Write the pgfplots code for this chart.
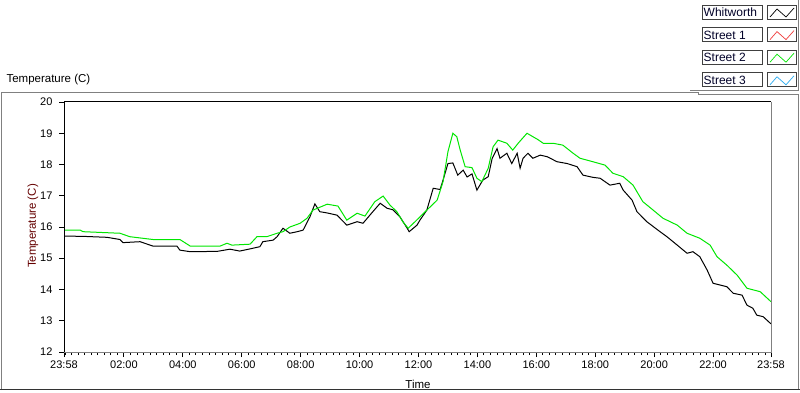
\documentclass[border=0pt]{standalone}
\usepackage{fontspec}
\setmainfont{Liberation Sans}
\usepackage{pgfplots}
\pgfplotsset{compat=1.18}
\definecolor{frgray}{RGB}{128,128,128}
\definecolor{lvgreen}{RGB}{0,230,0}
\definecolor{lvred}{RGB}{240,60,60}
\definecolor{lvblue}{RGB}{40,170,240}
\definecolor{ylab}{RGB}{100,0,0}
\definecolor{legtext}{RGB}{0,0,40}
\begin{document}
\begin{tikzpicture}[font=\fontsize{11}{13}\selectfont]
\begin{scope}[x=1pt,y=1pt]
\useasboundingbox (0,0) rectangle (800,392);
% outer chart frame
\draw[frgray,line width=1pt] (1,2) -- (1,299.3) -- (698,299.3) -- (698,297.3) -- (798.5,297.3) -- (798.5,2);
\draw[black!80,line width=1pt] (0,2.5) -- (800,2.5);
% legend panel border
\draw[frgray,line width=1pt] (690,302) -- (798.5,302) -- (798.5,392);
% top title
\node[anchor=west,font=\fontsize{11.5}{13}\selectfont] at (3,312) {Temperature (C)};
% y label
\node[rotate=90,text=ylab,font=\fontsize{11.5}{13}\selectfont] at (33,166) {Temperature (C)};
% x label
\node[font=\fontsize{11.5}{13}\selectfont] at (418,8) {Time};
\end{scope}
\begin{axis}[
  at={(64pt,40pt)}, anchor=south west,
  width=707pt, height=250pt, scale only axis,
  xmin=0, xmax=1440, ymin=12, ymax=20,
  axis lines*=left,
  x axis line style={frgray,line width=1pt},
  y axis line style={black,line width=1pt},
  tick align=outside,
  major tick length=5pt, minor tick length=3pt,
  every tick/.style={black,line width=0.9pt},
  xtick={0,122,242,362,482,602,722,842,962,1082,1202,1322,1440},
  xticklabels={23:58,02:00,04:00,06:00,08:00,10:00,12:00,14:00,16:00,18:00,20:00,22:00,23:58},
  minor xtick={2,15.333,...,1436},
  ytick={12,13,...,20},
  yticklabel style={xshift=-3pt},
  /pgf/number format/assume math mode=true,
  clip=true,
]
\addplot[black,line width=1pt] coordinates {
(0,15.71)(40,15.70)(87.6,15.67)(114,15.6)(120,15.5)(155,15.53)(181,15.39)(230,15.39)(236,15.26)(257,15.21)
(312,15.22)(338,15.29)(358,15.23)(379,15.30)(399,15.37)(405,15.53)(426,15.58)(434,15.69)(446,15.96)(460,15.8)
(475,15.85)(487,15.9)(501,16.33)(511,16.74)(521,16.49)(536,16.45)(556,16.38)(576,16.06)(597,16.17)(609,16.12)
(629,16.49)(644,16.76)(658,16.6)(670,16.55)(684,16.33)(699,15.96)(703,15.85)(719,16.06)(725,16.22)(739,16.54)
(752,17.24)(766,17.2)(772,17.5)(782,18.03)(792,18.05)(802,17.66)(813,17.82)(821,17.6)(831,17.7)(841,17.18)
(853,17.5)(864,17.61)(872,18.19)(882,18.51)(888,18.2)(902,18.36)(912,18.03)(923,18.36)(929,17.88)(935,18.2)
(945,18.36)(955,18.2)(970,18.3)(984,18.25)(1004,18.09)(1025,18.03)(1045,17.93)(1057,17.66)(1077,17.59)(1092,17.56)
(1112,17.34)(1132,17.4)(1139,17.18)(1157,16.86)(1167,16.49)(1187,16.17)(1214,15.85)(1228,15.69)(1249,15.42)(1269,15.16)
(1281,15.21)(1295,15.05)(1310,14.62)(1322,14.2)(1350,14.09)(1363,13.88)(1381,13.82)(1391,13.5)(1403,13.4)(1411,13.18)
(1424,13.13)(1440,12.9)
};
\addplot[lvgreen,line width=1pt] coordinates {
(0,15.9)(33,15.9)(39,15.85)(114,15.8)(134,15.69)(181,15.6)(236,15.6)(257,15.39)(318,15.39)(332,15.48)
(342,15.42)(379,15.45)(393,15.69)(413,15.69)(434,15.8)(446,15.85)(460,16.0)(481,16.12)(495,16.28)(507,16.54)
(536,16.73)(558,16.67)(576,16.22)(597,16.44)(613,16.35)(633,16.81)(650,16.99)(664,16.70)(678,16.49)(690,16.17)
(701,15.96)(715,16.17)(739,16.54)(760,16.86)(772,17.45)(782,18.41)(792,19.0)(800,18.89)(807,18.46)(817,17.93)
(831,17.9)(841,17.56)(851,17.45)(864,17.88)(874,18.57)(884,18.78)(902,18.68)(914,18.46)(925,18.68)(943,19.0)
(955,18.89)(965,18.8)(976,18.68)(996,18.68)(1016,18.62)(1037,18.36)(1051,18.2)(1077,18.09)(1102,17.98)(1118,17.72)
(1139,17.61)(1159,17.34)(1179,16.81)(1200,16.54)(1220,16.28)(1249,16.06)(1269,15.8)(1295,15.64)(1316,15.42)(1330,15.05)
(1350,14.78)(1371,14.46)(1391,14.04)(1418,13.93)(1440,13.61)
};
\end{axis}
\begin{scope}[x=1pt,y=1pt]
% top and right frame of plot area
\draw[black,line width=1pt] (64,40) -- (64,290.5) -- (771,290.5);
\draw[frgray,line width=1pt] (771,290.5) -- (771,40) -- (64,40);
% legend
\foreach \i/\name/\col in {0/Whitworth/black,1/Street 1/lvred,2/Street 2/lvgreen,3/Street 3/lvblue}{
  \pgfmathsetmacro{\yt}{387-22.6*\i}
  \draw[black!75,fill=white,line width=0.8pt] (702,\yt-14) rectangle (762,\yt);
  \node[anchor=west,text=legtext,inner sep=0pt,font=\fontsize{12}{13}\selectfont] at (703.5,\yt-7.3) {\name};
  \draw[black!75,fill=white,line width=0.8pt] (767,\yt-14) rectangle (796,\yt);
  \draw[\col,line width=0.7pt] (770,\yt-12) -- (777,\yt-4) -- (786,\yt-12) -- (794,\yt-3);
}
\end{scope}
\end{tikzpicture}
\end{document}
